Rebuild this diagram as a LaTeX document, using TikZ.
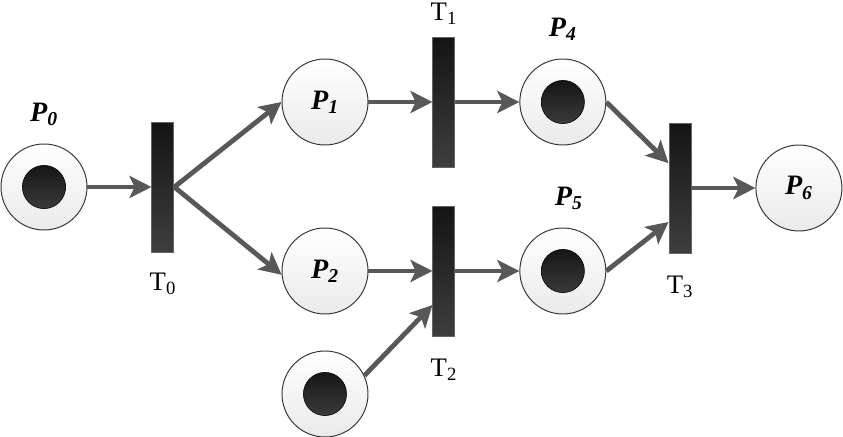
\documentclass[tikz,border=0pt]{standalone}
\usepackage{fontspec}
\setmainfont{Liberation Serif}
\usetikzlibrary{positioning,arrows.meta,calc}
\definecolor{ArcGray}{RGB}{88,88,88}
\definecolor{PlaceEdge}{RGB}{55,55,55}
\definecolor{PlaceShade}{RGB}{234,234,234}
\definecolor{BarTop}{RGB}{20,20,20}
\definecolor{BarBottom}{RGB}{62,62,62}
\definecolor{BarEdge}{RGB}{100,100,100}
\definecolor{TokenTop}{RGB}{22,22,22}
\definecolor{TokenBottom}{RGB}{58,58,58}
\newcommand{\plab}[1]{\textbf{\textit{P\textsubscript{#1}}}}
\newcommand{\tlab}[1]{T\textsubscript{#1}}
\tikzset{
  flow/.style={-{Stealth[length=0.55cm,width=0.55cm,inset=0.13cm]},line width=0.12cm,draw=ArcGray},
  placenode/.style={circle,draw=PlaceEdge,line width=0.7pt,top color=white,bottom color=PlaceShade,
    minimum size=2.15cm,inner sep=0pt,font=\fontsize{20}{24}\selectfont},
  tokendot/.style={circle,draw=black,line width=0.4pt,top color=TokenTop,bottom color=TokenBottom,
    minimum size=1.08cm,inner sep=0pt},
  transbar/.style={rectangle,draw=BarEdge,line width=0.6pt,top color=BarTop,bottom color=BarBottom,
    minimum width=0.55cm,minimum height=3.25cm,inner sep=0pt},
  plabel/.style={inner sep=0pt,anchor=base,font=\fontsize{20}{24}\selectfont},
  tlabel/.style={inner sep=0pt,anchor=base,font=\fontsize{19}{23}\selectfont}
}
\begin{document}
\begin{tikzpicture}
  \useasboundingbox (0,0) rectangle (21.075,10.9);
  % places and transitions
  \node[placenode] (p0) at (1.1,6.225) {};
  \node[transbar,right=1.6cm of p0] (t0) {};
  \node[placenode] (p1) at (8.125,8.35) {\plab{1}};
  \node[transbar,right=1.6cm of p1] (t1) {};
  \node[placenode,right=1.6cm of t1] (p4) {};
  \node[placenode] (p2) at (8.125,4.125) {\plab{2}};
  \node[transbar,right=1.6cm of p2] (t2) {};
  \node[placenode,right=1.6cm of t2] (p5) {};
  \node[placenode,below=0.9cm of p2] (pin) {};
  \node[transbar] (t3) at (17.0,6.2) {};
  \node[placenode,right=1.6cm of t3] (p6) {\plab{6}};
  % tokens
  \foreach \p in {p0,p4,p5,pin}
    \node[tokendot] (tok-\p) at (\p.center) {};
  % labels
  \node[plabel] (p0lbl) at ([yshift=0.55cm]p0.north) {\plab{0}};
  \node[plabel] (p4lbl) at ([yshift=0.55cm]p4.north) {\plab{4}};
  \node[plabel] (p5lbl) at ([xshift=0.15cm,yshift=0.55cm]p5.north) {\plab{5}};
  \node[tlabel] (t0lbl) at ([yshift=-0.95cm]t0.south) {\tlab{0}};
  \node[tlabel] (t1lbl) at ([yshift=0.4cm]t1.north) {\tlab{1}};
  \node[tlabel] (t2lbl) at ([yshift=-1.0cm]t2.south) {\tlab{2}};
  \node[tlabel] (t3lbl) at ([yshift=-1.0cm]t3.south) {\tlab{3}};
  % arcs
  \draw[flow] (p0) -- (t0);
  \draw[flow] (t0.east) -- (p1.west);
  \draw[flow] (t0.east) -- (p2.185);
  \draw[flow] (p1) -- (t1);
  \draw[flow] (t1) -- (p4);
  \draw[flow] (p2) -- (t2);
  \draw[flow] (pin.25) -- ([yshift=-0.85cm]t2.west);
  \draw[flow] (t2) -- (p5);
  \draw[flow] (p4.east) -- ([yshift=0.62cm]t3.west);
  \draw[flow] (p5.east) -- ([yshift=-0.85cm]t3.west);
  \draw[flow] (t3) -- (p6);
\end{tikzpicture}
\end{document}
